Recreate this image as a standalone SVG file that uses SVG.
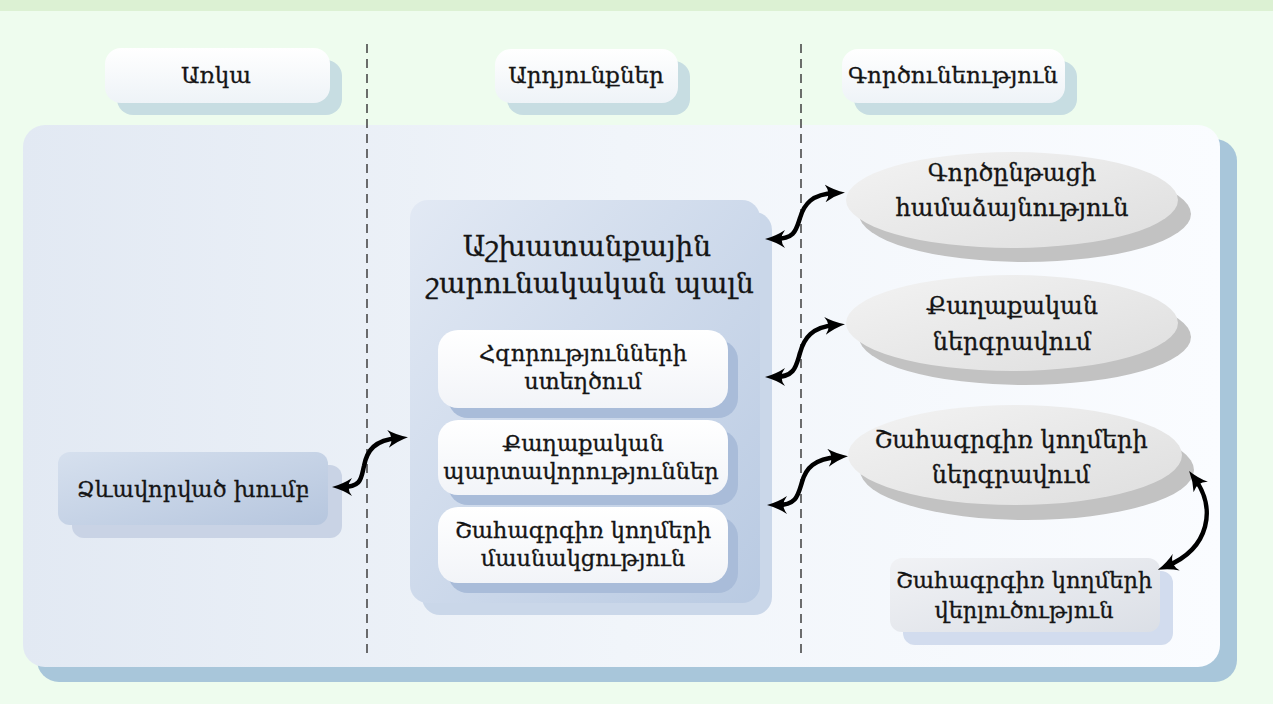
<svg xmlns="http://www.w3.org/2000/svg" width="1273" height="704" viewBox="0 0 1273 704">
<defs>
<style>
.t{font-family:"DejaVu Serif","Liberation Serif",serif;fill:#151515;stroke:#151515;stroke-width:0.3;text-anchor:middle;dominant-baseline:central}
.h{font-size:23px}
.big{font-size:28px}
.in{font-size:22.5px}
.el{font-size:24px}
.conn{fill:none;stroke:#000;stroke-width:4.5;stroke-linecap:round;marker-start:url(#ah);marker-end:url(#ah)}
.dash{stroke:#4a4a4a;stroke-width:1.6;stroke-dasharray:9 6}
</style>
<linearGradient id="gPanel" x1="0" y1="0" x2="1" y2="0">
<stop offset="0" stop-color="#e2e9f3"/><stop offset="0.5" stop-color="#f1f5fa"/><stop offset="1" stop-color="#fafcff"/>
</linearGradient>
<linearGradient id="gPill" x1="0" y1="0" x2="0" y2="1">
<stop offset="0" stop-color="#ffffff"/><stop offset="1" stop-color="#eef3f7"/>
</linearGradient>
<linearGradient id="gGroup" x1="0" y1="0" x2="1" y2="1">
<stop offset="0" stop-color="#d6e0ee"/><stop offset="1" stop-color="#b6c6de"/>
</linearGradient>
<linearGradient id="gBig" x1="0" y1="0" x2="1" y2="1">
<stop offset="0" stop-color="#e2e9f4"/><stop offset="1" stop-color="#b9cae2"/>
</linearGradient>
<linearGradient id="gWhite" x1="0" y1="0" x2="0" y2="1">
<stop offset="0" stop-color="#ffffff"/><stop offset="1" stop-color="#f2f4f8"/>
</linearGradient>
<linearGradient id="gEl" x1="0" y1="0" x2="1" y2="1">
<stop offset="0" stop-color="#f3f3f3"/><stop offset="1" stop-color="#dedede"/>
</linearGradient>
<linearGradient id="gAn" x1="0" y1="0" x2="1" y2="1">
<stop offset="0" stop-color="#f1f2f5"/><stop offset="1" stop-color="#dbdfe6"/>
</linearGradient>
<marker id="ah" viewBox="0 0 20 18" refX="10" refY="9" markerWidth="20" markerHeight="18" markerUnits="userSpaceOnUse" orient="auto-start-reverse">
<path d="M0,0 Q9,6 20,9 Q9,12 0,18 Q7,9 0,0 Z" fill="#000"/>
</marker>
</defs>

<rect x="0" y="0" width="1273" height="704" fill="#eefcee"/>
<rect x="0" y="0" width="1273" height="11" fill="#dcf1d3"/>

<g id="panel">
<rect x="37" y="139" width="1200" height="543" rx="22" fill="#a8c6da"/>
<rect x="23" y="125" width="1197" height="542" rx="22" fill="url(#gPanel)"/>
</g>

<g id="dividers">
<line class="dash" x1="367" y1="44" x2="367" y2="656"/>
<line class="dash" x1="801" y1="44" x2="801" y2="656"/>
</g>

<g id="hdr-available">
<rect x="117" y="60" width="225" height="55" rx="16" fill="#c7dde2"/>
<rect x="105" y="48" width="225" height="55" rx="16" fill="url(#gPill)"/>
<text class="t h" x="216" y="75">Առկա</text>
</g>
<g id="hdr-results">
<rect x="507" y="61" width="183" height="54" rx="16" fill="#c7dde2"/>
<rect x="495" y="49" width="183" height="54" rx="16" fill="url(#gPill)"/>
<text class="t h" x="586" y="75">Արդյունքներ</text>
</g>
<g id="hdr-activity">
<rect x="854" y="61" width="223" height="54" rx="16" fill="#c7dde2"/>
<rect x="842" y="49" width="223" height="54" rx="16" fill="url(#gPill)"/>
<text class="t h" x="953" y="75">Գործունեություն</text>
</g>

<g id="formed-group">
<rect x="72" y="465" width="270" height="73" rx="12" fill="#c9d3e5"/>
<rect x="58" y="452" width="270" height="73" rx="12" fill="url(#gGroup)"/>
<text class="t in" x="193" y="489">Ձևավորված խումբ</text>
</g>

<g id="work-plan">
<rect x="422" y="212" width="350" height="403" rx="18" fill="#cad7e9"/>
<rect x="410" y="200" width="350" height="403" rx="18" fill="url(#gBig)"/>
<text class="t big" x="587" y="246">Աշխատանքային</text>
<text class="t big" x="590" y="283">շարունակական պալն</text>
</g>

<g id="capacity">
<rect x="448" y="340" width="290" height="78" rx="20" fill="#a9bcd9"/>
<rect x="438" y="330" width="290" height="78" rx="20" fill="url(#gWhite)"/>
<text class="t in" x="583" y="353">Հզորությունների</text>
<text class="t in" x="583" y="381">ստեղծում</text>
</g>
<g id="commitments">
<rect x="448" y="430" width="290" height="75" rx="20" fill="#a9bcd9"/>
<rect x="438" y="420" width="290" height="75" rx="20" fill="url(#gWhite)"/>
<text class="t in" x="583" y="443">Քաղաքական</text>
<text class="t in" x="581" y="471">պարտավորություններ</text>
</g>
<g id="participation">
<rect x="448" y="517" width="290" height="76" rx="20" fill="#a9bcd9"/>
<rect x="438" y="507" width="290" height="76" rx="20" fill="url(#gWhite)"/>
<text class="t in" x="583" y="530">Շահագրգիռ կողմերի</text>
<text class="t in" x="583" y="558">մասնակցություն</text>
</g>

<g id="process-agreement">
<ellipse cx="1025" cy="214" rx="166" ry="48" fill="#c2c2c2"/>
<ellipse cx="1012" cy="200" rx="166" ry="48" fill="url(#gEl)"/>
<text class="t el" x="1012" y="173">Գործընթացի</text>
<text class="t el" x="1012" y="208">համաձայնություն</text>
</g>
<g id="political-engagement">
<ellipse cx="1025" cy="337" rx="166" ry="48" fill="#c2c2c2"/>
<ellipse cx="1012" cy="323" rx="166" ry="48" fill="url(#gEl)"/>
<text class="t el" x="1012" y="306">Քաղաքական</text>
<text class="t el" x="1012" y="342">ներգրավում</text>
</g>
<g id="stakeholder-engagement">
<ellipse cx="1027" cy="470" rx="167" ry="50" fill="#c2c2c2"/>
<ellipse cx="1015" cy="455" rx="167" ry="50" fill="url(#gEl)"/>
<text class="t el" x="1011" y="440">Շահագրգիռ կողմերի</text>
<text class="t el" x="1011" y="475">ներգրավում</text>
</g>

<g id="stakeholder-analysis">
<rect x="903" y="571" width="270" height="74" rx="12" fill="#d2dcee"/>
<rect x="890" y="558" width="270" height="74" rx="12" fill="url(#gAn)"/>
<text class="t in" x="1024" y="580">Շահագրգիռ կողմերի</text>
<text class="t in" x="1024" y="610">վերլուծություն</text>
</g>

<g id="connectors">
<path class="conn" d="M342 487 C362 487 361 478 364 466 C367 450 375 440 398 438"/>
<path class="conn" d="M775 239 C795 239 796 230 800 218 C804 204 812 194 835 193"/>
<path class="conn" d="M775 377 C795 377 796 366 800 353 C804 338 812 327 835 325"/>
<path class="conn" d="M777 505 C797 505 798 495 802 482 C806 468 814 459 838 457"/>
<path class="conn" d="M1195 479 C1216 508 1210 548 1167 566"/>
</g>
</svg>
